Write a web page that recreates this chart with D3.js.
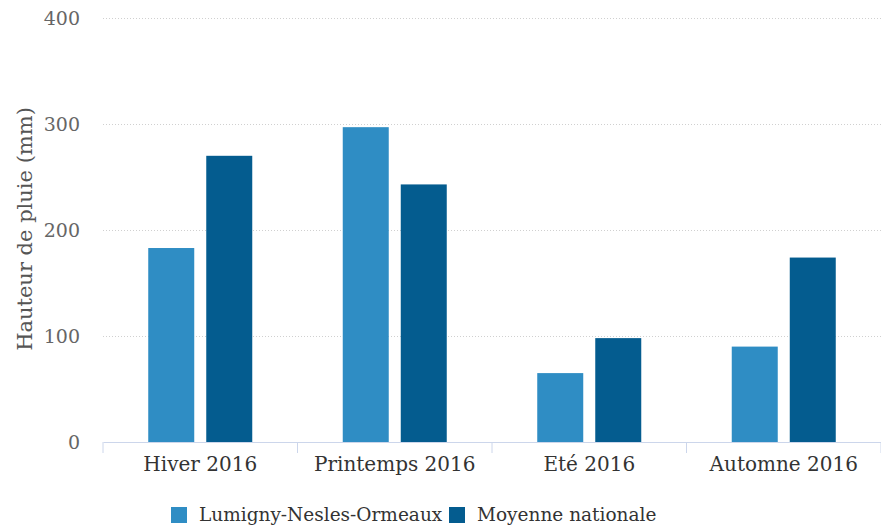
<!DOCTYPE html>
<html>
<head>
<meta charset="utf-8">
<script src="https://cdn.jsdelivr.net/npm/d3@7"></script>
<style>
  body { margin: 0; background: #fff; }
  svg { display: block; font-family: "DejaVu Serif", serif; }
</style>
</head>
<body>
<svg width="881" height="531"></svg>
<script>
var seasons = ['Hiver 2016', 'Printemps 2016', 'Eté 2016', 'Automne 2016'];
var seriesNames = ['Lumigny-Nesles-Ormeaux', 'Moyenne nationale'];
var lumigny = [183, 297, 65, 90];
var nationale = [270, 243, 98, 174];
var yTicks = [0, 100, 200, 300, 400];
var colors = ['#2f8dc4', '#045c8f'];

var svg = d3.select('svg');
var plotLeft = 103, plotRight = 881, plotTop = 18, plotBottom = 442;

var x = d3.scaleBand().domain(seasons).range([plotLeft, plotRight]);
var inner = d3.scaleBand().domain(seriesNames).range([0, x.bandwidth()])
  .paddingInner(0.207).paddingOuter(0.78);
var y = d3.scaleLinear().domain([0, 400]).range([plotBottom, plotTop]);

// grid
svg.append('g')
  .selectAll('line')
  .data(yTicks.filter(function(d) { return d > 0; }))
  .join('line')
  .attr('x1', plotLeft).attr('x2', plotRight)
  .attr('y1', function(d) { return y(d) + 0.5; })
  .attr('y2', function(d) { return y(d) + 0.5; })
  .attr('stroke', '#d0d0d0')
  .attr('stroke-dasharray', '1,2');

// y labels
svg.append('g')
  .selectAll('text')
  .data(yTicks)
  .join('text')
  .attr('x', 80)
  .attr('y', function(d) { return y(d) + 7; })
  .attr('text-anchor', 'end')
  .attr('fill', '#666')
  .style('font-size', '19px')
  .text(function(d) { return d; });

svg.append('text')
  .attr('transform', 'translate(32,229) rotate(-90)')
  .attr('text-anchor', 'middle')
  .attr('fill', '#555')
  .style('font-size', '21px')
  .text('Hauteur de pluie (mm)');

// bars
var data = [lumigny, nationale];
seasons.forEach(function(s, i) {
  var g = svg.append('g').attr('transform', 'translate(' + x(s) + ',0)');
  g.selectAll('rect')
    .data(seriesNames)
    .join('rect')
    .attr('x', function(n) { return inner(n); })
    .attr('width', inner.bandwidth())
    .attr('y', function(n, j) { return y(data[j][i]); })
    .attr('height', function(n, j) { return plotBottom - y(data[j][i]); })
    .attr('fill', function(n, j) { return colors[j]; });
});

// x axis
var xAxis = svg.append('g').attr('transform', 'translate(0,' + plotBottom + ')')
  .call(d3.axisBottom(x).tickSize(0).tickPadding(15));
xAxis.select('.domain').attr('stroke', '#ccd6eb');
xAxis.selectAll('text')
  .attr('fill', '#333')
  .style('font-size', '20px')
  .style('font-family', '"DejaVu Serif", serif');

svg.append('g')
  .selectAll('line')
  .data(d3.range(seasons.length + 1))
  .join('line')
  .attr('x1', function(i) { return plotLeft + i * x.step(); })
  .attr('x2', function(i) { return plotLeft + i * x.step(); })
  .attr('y1', plotBottom).attr('y2', plotBottom + 11)
  .attr('stroke', '#ccd6eb');

// legend
var legend = svg.append('g');
var lx = [171, 449];
seriesNames.forEach(function(n, j) {
  legend.append('rect')
    .attr('x', lx[j]).attr('y', 507)
    .attr('width', 16).attr('height', 16)
    .attr('fill', colors[j]);
  legend.append('text')
    .attr('x', lx[j] + 28).attr('y', 521)
    .attr('fill', '#333')
    .style('font-size', '18.5px')
    .text(n);
});
</script>
</body>
</html>
